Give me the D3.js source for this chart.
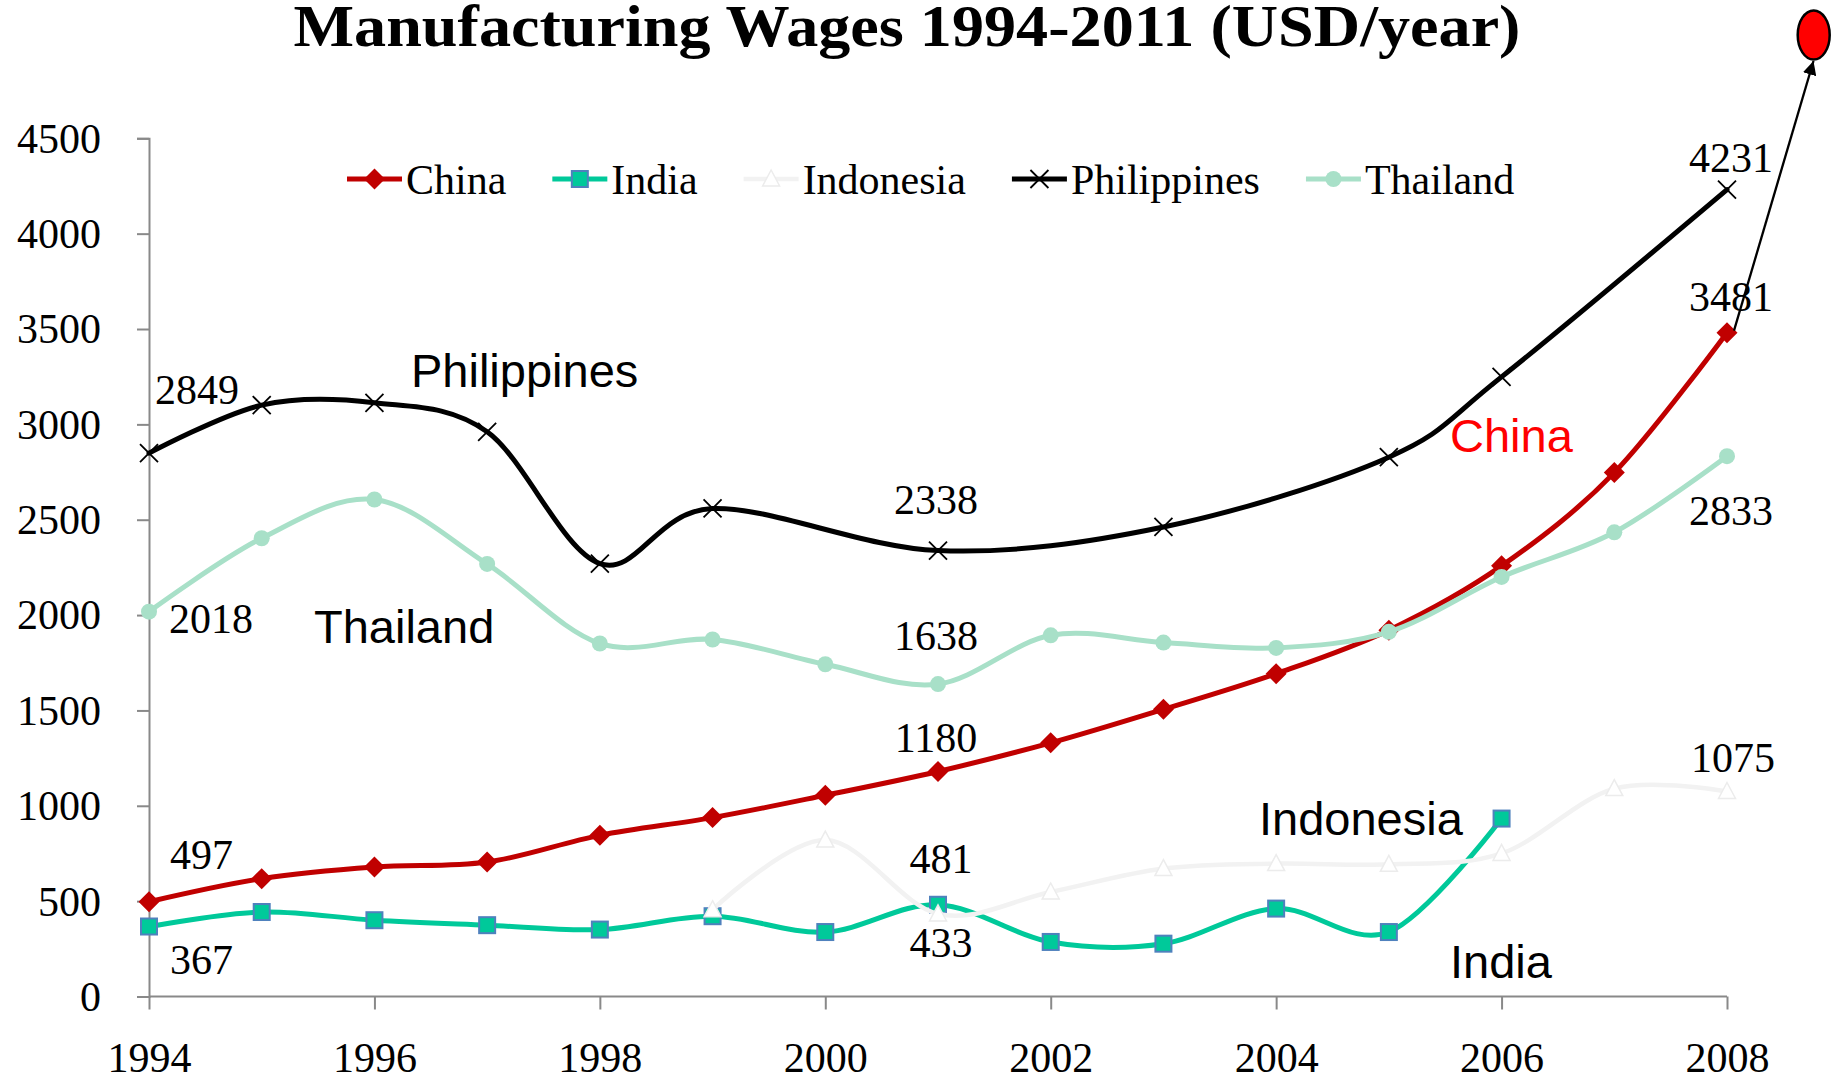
<!DOCTYPE html>
<html><head><meta charset="utf-8">
<script src="https://cdn.jsdelivr.net/npm/d3@7"></script>
<style>body{margin:0;background:#fff}svg{display:block}</style>
</head><body>
<svg id="c" width="1838" height="1079"></svg>
<script>
// ---- data ----
const years = [1994,1995,1996,1997,1998,1999,2000,2001,2002,2003,2004,2005,2006,2007,2008];
const china = [497,618,679,705,845,938,1055,1180,1330,1506,1693,1921,2258,2747,3481];
const india = [367,443,400,374,351,421,338,481,286,277,461,338,933,null,null];
const indonesia = [null,null,null,null,null,455,820,433,548,671,697,693,750,1090,1075];
const philippines = [2849,3101,3113,2961,2270,2559,null,2338,null,2462,null,2828,3249,null,4231];
const thailand = [2018,2403,2606,2268,1851,1872,1742,1638,1894,1856,1828,1912,2200,2434,2833];
const seriesNames = ["China","India","Indonesia","Philippines","Thailand"];
const yTicks = [0,500,1000,1500,2000,2500,3000,3500,4000,4500];
const xTicks = [1994,1996,1998,2000,2002,2004,2006,2008];
const titleText = "Manufacturing Wages 1994-2011 (USD/year)";

// ---- styles ----
const styles = {
  China:      {color:"#c00000", width:5,   marker:"diamond"},
  India:      {color:"#00c99a", width:5,   marker:"square"},
  Indonesia:  {color:"#f2f2f2", width:4.5, marker:"triangle"},
  Philippines:{color:"#000000", width:5,   marker:"x"},
  Thailand:   {color:"#a8e0c8", width:5,   marker:"circle"}
};
const valuesBy = {China:china, India:india, Indonesia:indonesia, Philippines:philippines, Thailand:thailand};

const svg = d3.select("#c");
const x = d3.scaleLinear().domain([1994,2008]).range([149,1727]);
const y = d3.scaleLinear().domain([0,4500]).range([996.5,138.3]);
const serif = "'Liberation Serif','Times New Roman',serif";
const sans = "'Liberation Sans',Arial,sans-serif";
const axisColor = "#898989";

// title
svg.append("text").attr("x",907).attr("y",46)
  .attr("text-anchor","middle").attr("font-family",serif).attr("font-weight","bold")
  .attr("font-size",60).attr("textLength",1227).attr("lengthAdjust","spacingAndGlyphs")
  .text(titleText);

// axes
const yAxis = svg.append("g").attr("transform",`translate(${x(1994)},0)`)
  .call(d3.axisLeft(y).tickValues(yTicks).tickSize(12).tickPadding(36).tickFormat(d3.format("d")));
const xAxis = svg.append("g").attr("transform",`translate(0,${y(0)})`)
  .call(d3.axisBottom(x).tickValues(xTicks).tickSize(13).tickFormat(d3.format("d")));
[yAxis,xAxis].forEach(g=>{
  g.select(".domain").attr("stroke",axisColor).attr("stroke-width",2);
  g.selectAll(".tick line").attr("stroke",axisColor).attr("stroke-width",2);
  g.selectAll("text").attr("font-family",serif).attr("font-size",42).attr("fill","#000");
});
yAxis.selectAll("text").attr("dy","0.33em");
xAxis.selectAll("text").attr("y",0).attr("dy",0).attr("transform","translate(0,75)");
xAxis.select(".domain").attr("d",`M${x(1994)},0H${x(2008)}`);

// marker drawing
function drawMarker(g, type, st){
  if(type==="diamond"){
    g.append("path").attr("d","M0,-10.5L10.5,0L0,10.5L-10.5,0Z").attr("fill",st.color);
  } else if(type==="square"){
    g.append("rect").attr("x",-8).attr("y",-8).attr("width",16).attr("height",16)
      .attr("fill","#00c99a").attr("stroke","#4f81bd").attr("stroke-width",2);
  } else if(type==="triangle"){
    g.append("path").attr("d","M0,-9L8.5,7L-8.5,7Z").attr("fill","#fff")
      .attr("stroke","#ececec").attr("stroke-width",1.5);
  } else if(type==="x"){
    g.append("path").attr("d","M-9,-9L9,9M-9,9L9,-9").attr("stroke","#000").attr("stroke-width",1.8).attr("fill","none");
  } else if(type==="circle"){
    g.append("circle").attr("r",8).attr("fill",st.color);
  }
}

// lines
const line = d3.line().x(d=>x(d.year)).y(d=>y(d.v)).curve(d3.curveCardinal.tension(0));
seriesNames.forEach(name=>{
  const st = styles[name];
  const pts = years.map((yr,i)=>({year:yr, v:valuesBy[name][i]})).filter(d=>d.v!=null);
  const g = svg.append("g");
  g.append("path").datum(pts).attr("d",line).attr("fill","none")
    .attr("stroke",st.color).attr("stroke-width",st.width).attr("stroke-linejoin","round").attr("stroke-linecap","round");
  pts.forEach(p=>{
    const m = g.append("g").attr("transform",`translate(${x(p.year)},${y(p.v)})`);
    drawMarker(m, st.marker, st);
  });
});

// data labels: [series, year, dx, dy(baseline offset), anchor]
const dataLabels = [
  ["Philippines",1994,6,-49,"start"],
  ["Philippines",2001,-2,-37,"middle"],
  ["Philippines",2008,4,-18,"middle"],
  ["China",1994,21,-33,"start"],
  ["China",2001,-2,-19,"middle"],
  ["China",2008,4,-22,"middle"],
  ["Thailand",1994,20,21,"start"],
  ["Thailand",2001,-2,-34,"middle"],
  ["Thailand",2008,4,69,"middle"],
  ["India",1994,21,47,"start"],
  ["India",2001,3,-32,"middle"],
  ["Indonesia",2001,3,43,"middle"],
  ["Indonesia",2008,6,-19,"middle"]
];
dataLabels.forEach(([name,yr,dx,dy,anchor])=>{
  const v = valuesBy[name][years.indexOf(yr)];
  svg.append("text").attr("x",x(yr)+dx).attr("y",y(v)+dy)
    .attr("text-anchor",anchor).attr("font-family",serif).attr("font-size",42).text(v);
});

// annotations
const notes = [
  ["Philippines",411,387,"#000"],
  ["Thailand",314,643,"#000"],
  ["China",1450,452,"#ff0000"],
  ["Indonesia",1259,835,"#000"],
  ["India",1450,978,"#000"]
];
notes.forEach(([t,nx,ny,c])=>{
  svg.append("text").attr("x",nx).attr("y",ny).attr("font-family",sans).attr("font-size",47)
    .attr("fill",c).text(t);
});

// legend
let lx = 347; const ly = 179;
seriesNames.forEach(name=>{
  const st = styles[name];
  const g = svg.append("g");
  g.append("line").attr("x1",lx).attr("x2",lx+55).attr("y1",ly).attr("y2",ly)
    .attr("stroke",st.color).attr("stroke-width",st.width);
  const m = g.append("g").attr("transform",`translate(${lx+27.5},${ly})`);
  drawMarker(m, st.marker, st);
  const t = g.append("text").attr("x",lx+59).attr("y",ly+15).attr("font-family",serif).attr("font-size",42).text(name);
  lx = lx + 59 + t.node().getComputedTextLength() + 46;
});

// arrow to red ellipse
const defs = svg.append("defs");
defs.append("marker").attr("id","ah").attr("viewBox","0 0 10 10").attr("refX",10).attr("refY",5)
  .attr("markerWidth",6).attr("markerHeight",6).attr("markerUnits","strokeWidth").attr("orient","auto")
  .append("path").attr("d","M0,0L10,5L0,10Z").attr("fill","#000");
const ax0 = x(2008)+7, ay0 = y(china[14])-2;
svg.append("line").attr("x1",ax0).attr("y1",ay0).attr("x2",x(2008)+86.5).attr("y2",61)
  .attr("stroke","#000").attr("stroke-width",2.3).attr("marker-end","url(#ah)");
svg.append("ellipse").attr("cx",x(2008)+86.7).attr("cy",35).attr("rx",16).attr("ry",24.5)
  .attr("fill","#ff0000").attr("stroke","#000").attr("stroke-width",2.5);
</script>
</body></html>
